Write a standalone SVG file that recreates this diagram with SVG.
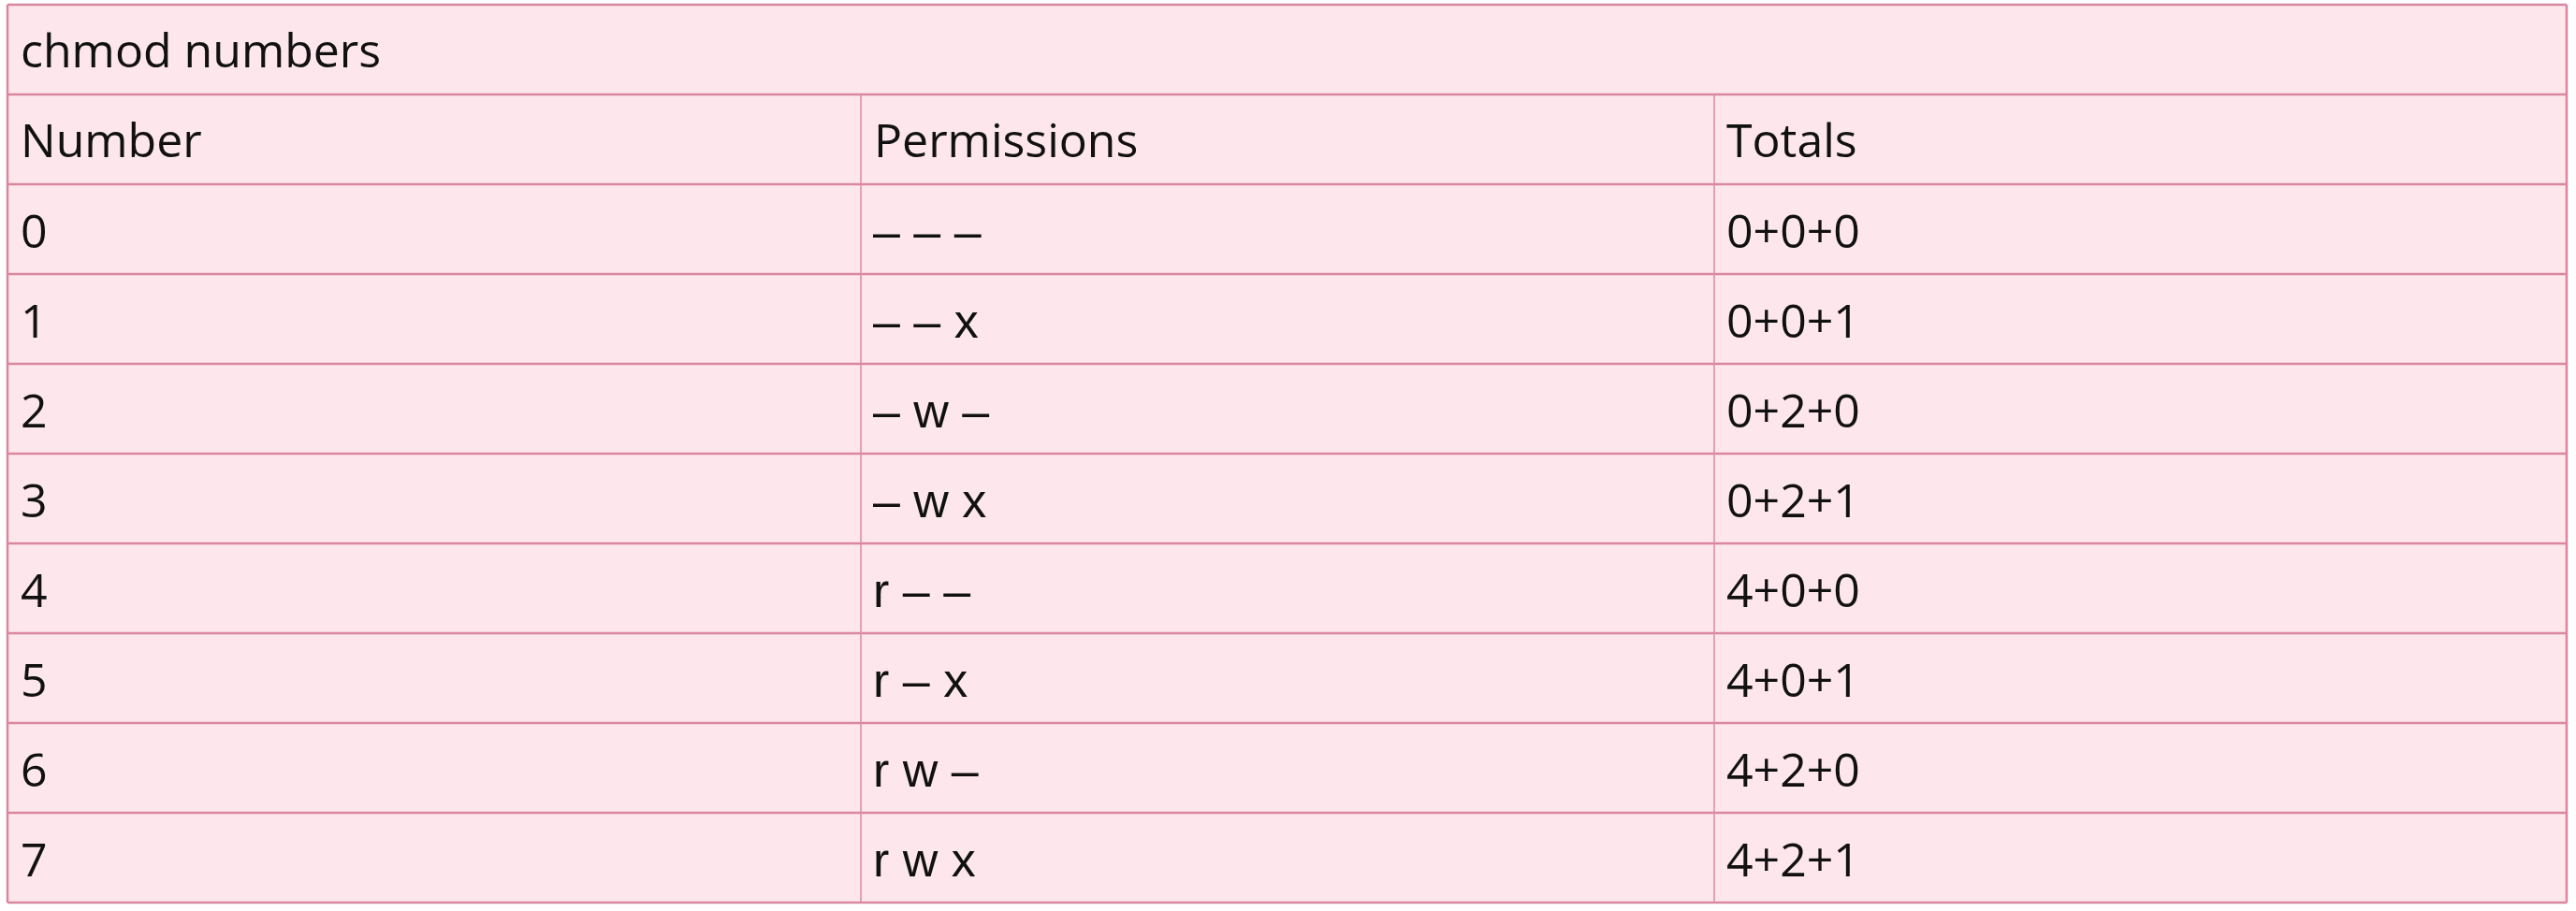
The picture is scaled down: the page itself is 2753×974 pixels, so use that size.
<svg xmlns="http://www.w3.org/2000/svg" width="2753" height="974" viewBox="0 0 2753 974">
<style>
.bg{fill:#FDE7ED}
.h{stroke:#D9869E;stroke-width:2.5}
.v{stroke:#DD8FA6;stroke-width:1.6}
.t{font-family:"Open Sans","Liberation Sans",sans-serif;font-size:50px;fill:#111}
.p{font-family:"Liberation Sans",Arial,sans-serif;font-size:52px;fill:#111}
</style>
<rect x="0" y="0" width="2753" height="974" fill="#ffffff"/>
<g id="table">
<rect class="bg" x="8" y="5" width="2735" height="960"/>
</g>
<g id="grid">
<line class="h" x1="8" y1="5" x2="2743" y2="5"/>
<line class="h" x1="8" y1="101" x2="2743" y2="101"/>
<line class="h" x1="8" y1="197" x2="2743" y2="197"/>
<line class="h" x1="8" y1="293" x2="2743" y2="293"/>
<line class="h" x1="8" y1="389" x2="2743" y2="389"/>
<line class="h" x1="8" y1="485" x2="2743" y2="485"/>
<line class="h" x1="8" y1="581" x2="2743" y2="581"/>
<line class="h" x1="8" y1="677" x2="2743" y2="677"/>
<line class="h" x1="8" y1="773" x2="2743" y2="773"/>
<line class="h" x1="8" y1="869" x2="2743" y2="869"/>
<line class="h" x1="8" y1="965" x2="2743" y2="965"/>
<line class="h" x1="8" y1="5" x2="8" y2="965"/>
<line class="h" x1="2743" y1="5" x2="2743" y2="965"/>
<line class="v" x1="920" y1="101" x2="920" y2="965"/>
<line class="v" x1="1832" y1="101" x2="1832" y2="965"/>
</g>
<g id="title"><text class="t" x="22" y="72">chmod numbers</text></g>
<g id="header">
<text class="t" x="22" y="168">Number</text>
<text class="t" x="934" y="168">Permissions</text>
<text class="t" x="1845" y="168">Totals</text>
</g>
<g id="row0"><text class="t" x="22" y="265">0</text><text class="p" x="933" y="265">– – –</text><text class="t" x="1845" y="265">0+0+0</text></g>
<g id="row1"><text class="t" x="22" y="361">1</text><text class="p" x="933" y="361">– – x</text><text class="t" x="1845" y="361">0+0+1</text></g>
<g id="row2"><text class="t" x="22" y="457">2</text><text class="p" x="933" y="457">– w –</text><text class="t" x="1845" y="457">0+2+0</text></g>
<g id="row3"><text class="t" x="22" y="553">3</text><text class="p" x="933" y="553">– w x</text><text class="t" x="1845" y="553">0+2+1</text></g>
<g id="row4"><text class="t" x="22" y="649">4</text><text class="p" x="933" y="649">r – –</text><text class="t" x="1845" y="649">4+0+0</text></g>
<g id="row5"><text class="t" x="22" y="745">5</text><text class="p" x="933" y="745">r – x</text><text class="t" x="1845" y="745">4+0+1</text></g>
<g id="row6"><text class="t" x="22" y="841">6</text><text class="p" x="933" y="841">r w –</text><text class="t" x="1845" y="841">4+2+0</text></g>
<g id="row7"><text class="t" x="22" y="937">7</text><text class="p" x="933" y="937">r w x</text><text class="t" x="1845" y="937">4+2+1</text></g>
</svg>
